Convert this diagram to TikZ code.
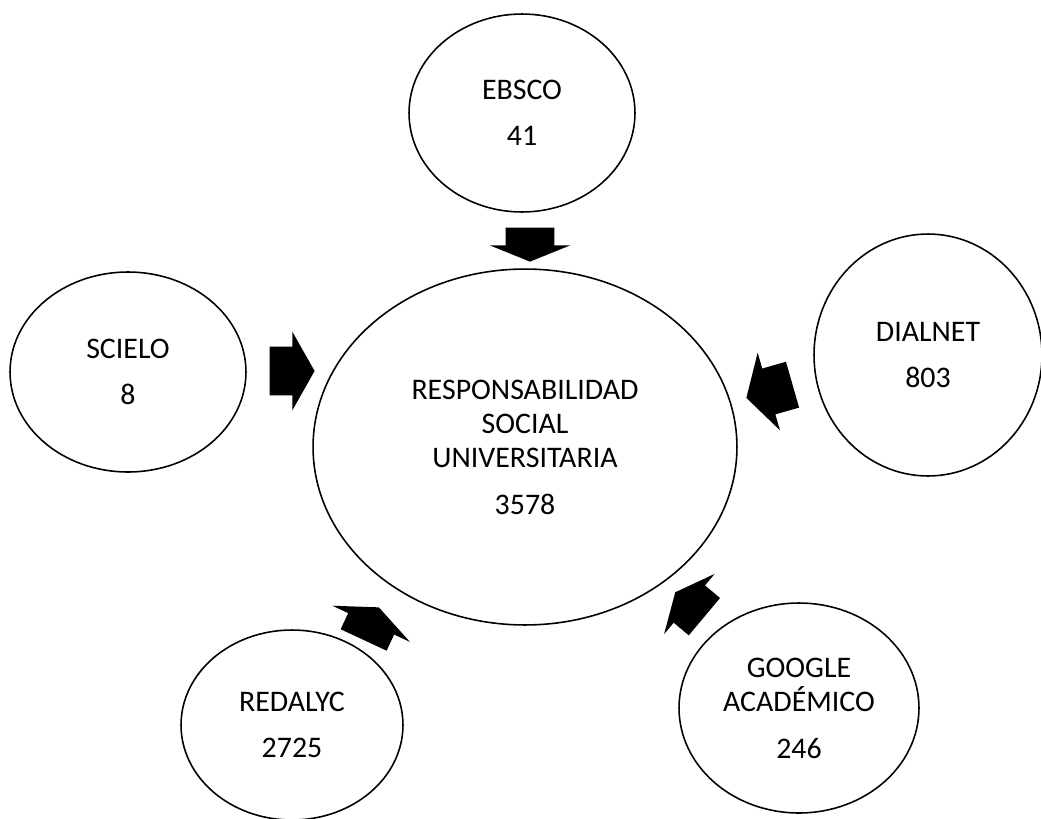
\documentclass[tikz,border=0pt]{standalone}
\usepackage{fontspec}
\setmainfont{Carlito}
\usetikzlibrary{shapes.geometric,shapes.arrows}

\tikzset{
	bubble/.style={draw, ellipse, line width=0.9pt, inner sep=0pt, align=center, font=\fontsize{17}{19.5}\selectfont},
	blockarrow/.style={single arrow, fill=black, draw=none, inner xsep=0pt, anchor=tip}
}

\begin{document}
\begin{tikzpicture}[x=0.02cm,y=-0.02cm]
			\useasboundingbox (0,0) rectangle (1041,818);
			
			\node[bubble, minimum width=8.48cm, minimum height=7.12cm] (rsu) at (525,447) {RESPONSABILIDAD\\SOCIAL\\UNIVERSITARIA\\[7pt]3578};
			
			\node[bubble, minimum width=4.52cm, minimum height=3.96cm] (ebsco) at (522,113) {EBSCO\\[7pt]41};
			\node[bubble, minimum width=4.72cm, minimum height=4cm] (scielo) at (128,372) {SCIELO\\[7pt]8};
			\node[bubble, minimum width=4.56cm, minimum height=4.84cm] (dialnet) at (928,355) {DIALNET\\[7pt]803};
			\node[bubble, minimum width=4.44cm, minimum height=3.8cm] (redalyc) at (292,725) {REDALYC\\[7pt]2725};
			\node[bubble, minimum width=4.8cm, minimum height=4.2cm] (google) at (799,708) {GOOGLE\\ACADÉMICO\\[7pt]246};
			
			% block arrows pointing to the centre
			\node[blockarrow, rotate=-90, minimum height=0.68cm, inner ysep=0.48cm, single arrow head extend=0.32cm, single arrow tip angle=136] (arrEbsco) at (530,262) {};
			\node[blockarrow, rotate=0, minimum height=0.9cm, inner ysep=0.48cm, single arrow head extend=0.3cm, single arrow tip angle=121] (arrScielo) at (315,371) {};
			\node[blockarrow, rotate=196, minimum height=0.96cm, inner ysep=0.47cm, single arrow head extend=0.33cm, single arrow tip angle=120] (arrDialnet) at (746,398) {};
			\node[blockarrow, rotate=140, minimum height=0.76cm, inner ysep=0.48cm, single arrow head extend=0.3cm, single arrow tip angle=130] (arrGoogle) at (675,592) {};
			\node[blockarrow, rotate=65, minimum height=0.72cm, inner ysep=0.5cm, single arrow head extend=0.35cm, single arrow tip angle=134] (arrRedalyc) at (379,607) {};
\end{tikzpicture}
\end{document}
